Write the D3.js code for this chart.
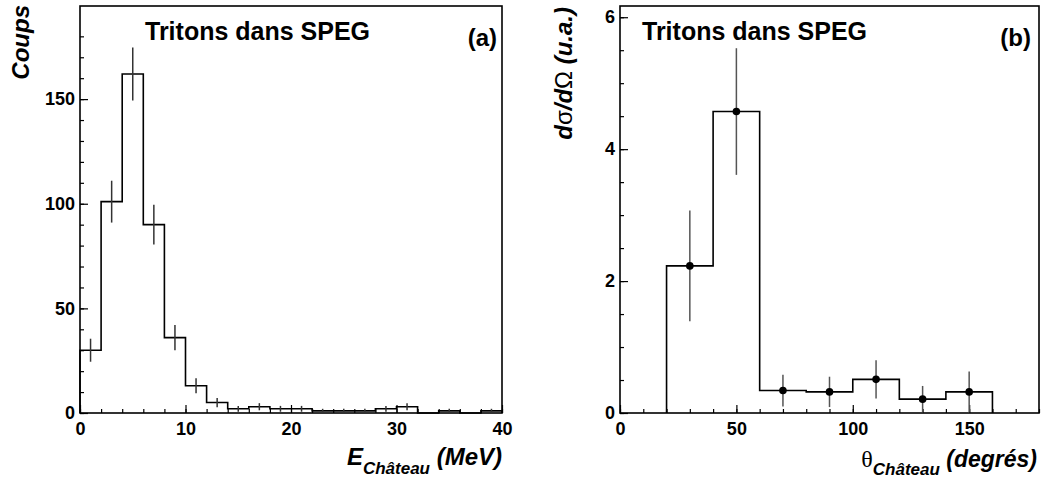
<!DOCTYPE html>
<html lang="fr">
<head>
<meta charset="utf-8">
<title>Tritons dans SPEG</title>
<script src="https://cdn.jsdelivr.net/npm/d3@7"></script>
<style>
    body { margin: 0; background: #fff; }
    svg { display: block; font-family: "Liberation Sans", Arial, sans-serif; }
    .tick text { font-size: 18px; font-weight: bold; fill: #000; }
    .tick line { stroke: #000; stroke-width: 1.2px; }
    .frame { fill: none; stroke: #000; stroke-width: 1.6px; }
    .histo { fill: none; stroke: #000; stroke-width: 1.6px; }
    .err { stroke: #333; stroke-width: 1.5px; }
</style>
</head>
<body>
<script>
    // (a) energy spectrum, 2 MeV bins from 0 to 40
    var energyLow = [0,2,4,6,8,10,12,14,16,18,20,22,24,26,28,30,32,34,36,38];
    var counts = [30,101,162,90,36,13,5,2,3,2,2,1,1,1,2,3,0,1,0,1];
    var countErr = [5.5,10,12.7,9.5,6,3.6,2.2,1.4,1.7,1.4,1.4,1,1,1,1.4,1.7,0,1,0,1];
    var energyTicks = [0,10,20,30,40];
    var coupsTicks = [0,50,100,150];

    // (b) angular distribution, 20 degree bins
    var thetaLow = [20,40,60,80,100,120,140];
    var thetaMid = [30,50,70,90,110,130,150];
    var dsig = [2.23,4.57,0.34,0.32,0.51,0.21,0.32];
    var dsigErr = [0.84,0.96,0.24,0.23,0.29,0.20,0.31];
    var thetaTicks = [0,50,100,150];
    var dsigTicks = [0,2,4,6];

    var svg = d3.select('body').append('svg')
        .attr('width', 1045)
        .attr('height', 482);

    function panel(box, xDom, yDom, xMajor, yMajor, xMinorStep, yMinorStep, yMinorMax) {
        var x = d3.scaleLinear().domain(xDom).range([box.x0, box.x1]);
        var y = d3.scaleLinear().domain(yDom).range([box.y1, box.y0]);
        var fmt = d3.format('d');

        var g = svg.append('g');

        // minor ticks
        g.append('g')
            .attr('transform', 'translate(0,' + box.y1 + ')')
            .call(d3.axisBottom(x).tickValues(d3.range(xDom[0], xDom[1] + 0.001, xMinorStep))
                .tickSize(-4).tickFormat(''))
            .call(function(s){ s.select('.domain').remove(); });
        g.append('g')
            .attr('transform', 'translate(' + box.x0 + ',0)')
            .call(d3.axisLeft(y).tickValues(d3.range(yDom[0], yMinorMax + 0.001, yMinorStep))
                .tickSize(-4).tickFormat(''))
            .call(function(s){ s.select('.domain').remove(); });

        // major ticks + labels
        g.append('g')
            .attr('transform', 'translate(0,' + box.y1 + ')')
            .call(d3.axisBottom(x).tickValues(xMajor).tickSize(-8).tickPadding(6).tickFormat(fmt))
            .call(function(s){ s.select('.domain').remove(); s.selectAll('text').attr('dy', '0.9em'); });
        g.append('g')
            .attr('transform', 'translate(' + box.x0 + ',0)')
            .call(d3.axisLeft(y).tickValues(yMajor).tickSize(-8).tickPadding(5).tickFormat(fmt))
            .call(function(s){ s.select('.domain').remove(); });

        g.append('rect')
            .attr('class', 'frame')
            .attr('x', box.x0).attr('y', box.y0)
            .attr('width', box.x1 - box.x0).attr('height', box.y1 - box.y0);

        return {g: g, x: x, y: y};
    }

    var A = panel({x0: 80, x1: 502, y0: 6, y1: 413}, [0, 40], [0, 194.5],
        energyTicks, coupsTicks, 2, 10, 180);
    var B = panel({x0: 620, x1: 1039, y0: 6, y1: 413}, [0, 180], [0, 6.17],
        thetaTicks, dsigTicks, 10, 0.5, 6);

    // step outline for a histogram
    function stepPath(sc, lows, vals, w) {
        var pts = [[lows[0], 0]];
        lows.forEach(function(l, i){
            pts.push([l, vals[i]]);
            pts.push([l + w, vals[i]]);
        });
        pts.push([lows[lows.length - 1] + w, 0]);
        return d3.line().x(function(d){ return sc.x(d[0]); }).y(function(d){ return sc.y(d[1]); })(pts);
    }

    A.g.append('path').attr('class', 'histo').attr('d', stepPath(A, energyLow, counts, 2));
    A.g.selectAll('line.err')
        .data(counts.map(function(c, i){ return {x: energyLow[i] + 1, v: c, e: countErr[i]}; })
            .filter(function(d){ return d.v > 0; }))
        .enter().append('line')
        .attr('class', 'err')
        .attr('x1', function(d){ return A.x(d.x); })
        .attr('x2', function(d){ return A.x(d.x); })
        .attr('y1', function(d){ return A.y(d.v - d.e); })
        .attr('y2', function(d){ return A.y(d.v + d.e); });

    B.g.append('path').attr('class', 'histo').attr('d', stepPath(B, thetaLow, dsig, 20));
    var pts = thetaMid.map(function(t, i){ return {x: t, v: dsig[i], e: dsigErr[i]}; });
    B.g.selectAll('line.err')
        .data(pts).enter().append('line')
        .attr('class', 'err')
        .style('stroke', '#555')
        .attr('x1', function(d){ return B.x(d.x); })
        .attr('x2', function(d){ return B.x(d.x); })
        .attr('y1', function(d){ return B.y(Math.max(0, d.v - d.e)); })
        .attr('y2', function(d){ return B.y(d.v + d.e); });
    B.g.selectAll('circle')
        .data(pts).enter().append('circle')
        .attr('cx', function(d){ return B.x(d.x); })
        .attr('cy', function(d){ return B.y(d.v); })
        .attr('r', 3.8)
        .attr('fill', '#000');

    // titles
    [[145, 'Tritons dans SPEG'], [642, 'Tritons dans SPEG']].forEach(function(t){
        svg.append('text').attr('x', t[0]).attr('y', 40)
            .style('font-size', '25px').style('font-weight', 'bold').text(t[1]);
    });
    svg.append('text').attr('x', 497).attr('y', 46).attr('text-anchor', 'end')
        .style('font-size', '24px').style('font-weight', 'bold').text('(a)');
    svg.append('text').attr('x', 1031).attr('y', 46).attr('text-anchor', 'end')
        .style('font-size', '24px').style('font-weight', 'bold').text('(b)');

    // axis titles
    svg.append('text')
        .attr('transform', 'translate(29,5) rotate(-90)')
        .attr('text-anchor', 'end')
        .style('font-size', '24px').style('font-weight', 'bold').style('font-style', 'italic')
        .text('Coups');

    var yl = svg.append('text')
        .attr('transform', 'translate(572,7) rotate(-90)')
        .attr('text-anchor', 'end')
        .style('font-size', '24px').style('font-weight', 'bold').style('font-style', 'italic');
    yl.append('tspan').text('d');
    yl.append('tspan').style('font-weight', 'normal').style('font-style', 'normal').text('σ');
    yl.append('tspan').text('/d');
    yl.append('tspan').style('font-weight', 'normal').style('font-style', 'normal').text('Ω');
    yl.append('tspan').text(' (u.a.)');

    var xa = svg.append('text').attr('x', 502).attr('y', 465).attr('text-anchor', 'end')
        .style('font-weight', 'bold').style('font-style', 'italic');
    xa.append('tspan').style('font-size', '24px').text('E');
    xa.append('tspan').style('font-size', '17px').attr('dy', 9).text('Château');
    xa.append('tspan').style('font-size', '24px').attr('dy', -9).text(' (MeV)');

    var xb = svg.append('text').attr('x', 1037).attr('y', 467).attr('text-anchor', 'end')
        .style('font-weight', 'bold').style('font-style', 'italic');
    xb.append('tspan').style('font-size', '24px').style('font-family', '"Liberation Serif", serif')
        .style('font-weight', 'normal').style('font-style', 'normal').text('θ');
    xb.append('tspan').style('font-size', '17px').attr('dy', 8).text('Château');
    xb.append('tspan').style('font-size', '23px').attr('dy', -8).text(' (degrés)');
</script>
</body>
</html>
